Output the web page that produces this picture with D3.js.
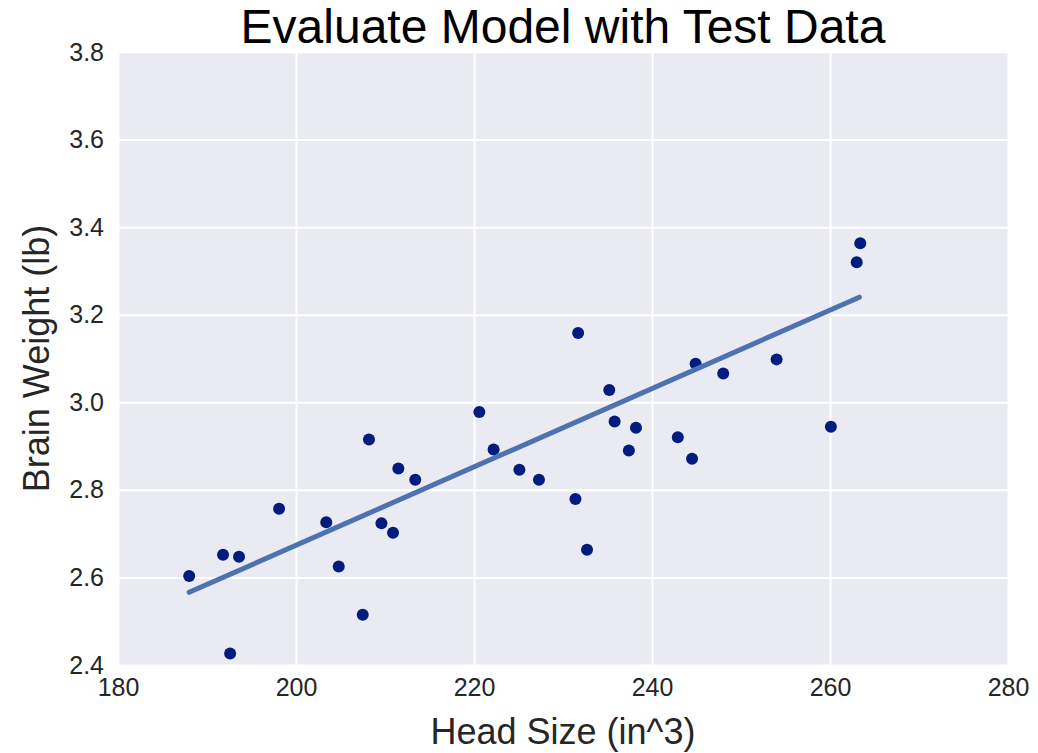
<!DOCTYPE html>
<html>
<head>
<meta charset="utf-8">
<script src="https://cdn.jsdelivr.net/npm/d3@7/dist/d3.min.js"></script>
<style>
  body { margin: 0; background: #fff; }
  text { font-family: "Liberation Sans", Arial, sans-serif; fill: #262626; }
</style>
</head>
<body>
<svg id="chart"></svg>
<script>
// test data: head size (in^3) vs brain weight (lb)
const headSize = [188.0, 191.8, 193.6, 192.6, 198.1, 203.4, 204.8, 208.2, 207.5, 209.6,
                  210.9, 211.5, 213.4, 220.6, 222.2, 225.1, 227.3, 231.7, 235.2, 235.8,
                  238.2, 237.4, 231.4, 232.7, 244.9, 248.0, 242.9, 244.5, 254.0, 260.1,
                  263.0, 263.4];
const brainWeight = [2.603, 2.652, 2.647, 2.426, 2.757, 2.726, 2.625, 2.915, 2.515, 2.724,
                     2.702, 2.849, 2.823, 2.978, 2.892, 2.846, 2.823, 3.158, 3.028, 2.956,
                     2.942, 2.890, 2.779, 2.663, 3.088, 3.066, 2.920, 2.871, 3.098, 2.944,
                     3.320, 3.363];

// fitted regression line (start / end)
const fitX = [188.0, 263.3];
const fitY = [2.566, 3.240];

const xTicks = [180, 200, 220, 240, 260, 280];
const yTicks = [2.4, 2.6, 2.8, 3.0, 3.2, 3.4, 3.6, 3.8];

const width = 1038, height = 753;
const margin = {top: 52, right: 30, bottom: 88, left: 118};
const innerW = width - margin.left - margin.right;
const innerH = height - margin.top - margin.bottom;

const svg = d3.select('#chart')
    .attr('width', width)
    .attr('height', height);

const g = svg.append('g')
    .attr('transform', `translate(${margin.left},${margin.top})`);

const x = d3.scaleLinear().domain([180, 280]).range([0, innerW]);
const y = d3.scaleLinear().domain([2.4, 3.8]).range([innerH, 0]);

// background
g.append('rect')
    .attr('width', innerW)
    .attr('height', innerH)
    .attr('fill', '#eaeaf2');

// grid
g.append('g')
    .attr('transform', `translate(0,${innerH})`)
    .call(d3.axisBottom(x).tickValues(xTicks).tickSize(-innerH).tickFormat(''))
    .call(ax => ax.select('.domain').remove())
    .call(ax => ax.selectAll('line').attr('stroke', '#fff').attr('stroke-width', 2));

g.append('g')
    .call(d3.axisLeft(y).tickValues(yTicks).tickSize(-innerW).tickFormat(''))
    .call(ax => ax.select('.domain').remove())
    .call(ax => ax.selectAll('line').attr('stroke', '#fff').attr('stroke-width', 2));

// tick labels
g.append('g')
    .attr('transform', `translate(0,${innerH})`)
    .call(d3.axisBottom(x).tickValues(xTicks).tickSize(0).tickPadding(13).tickFormat(d3.format('d')))
    .call(ax => ax.select('.domain').remove())
    .call(ax => ax.selectAll('text')
        .attr('font-size', 25)
        .attr('font-family', '"Liberation Sans", Arial, sans-serif')
        .attr('fill', '#262626'));

g.append('g')
    .call(d3.axisLeft(y).tickValues(yTicks).tickSize(0).tickPadding(14).tickFormat(d3.format('.1f')))
    .call(ax => ax.select('.domain').remove())
    .call(ax => ax.selectAll('text')
        .attr('font-size', 25)
        .attr('font-family', '"Liberation Sans", Arial, sans-serif')
        .attr('fill', '#262626'));

// scatter of test points
g.selectAll('.dot')
    .data(headSize.map((h, i) => [h, brainWeight[i]]))
    .enter().append('circle')
    .attr('class', 'dot')
    .attr('cx', d => x(d[0]))
    .attr('cy', d => y(d[1]))
    .attr('r', 6)
    .attr('fill', '#001c7f');

// regression line
const line = d3.line().x(d => x(d[0])).y(d => y(d[1]));
g.append('path')
    .datum(fitX.map((v, i) => [v, fitY[i]]))
    .attr('d', line)
    .attr('fill', 'none')
    .attr('stroke', '#4c72b0')
    .attr('stroke-width', 5)
    .attr('stroke-linecap', 'round');

// titles
svg.append('text')
    .attr('x', margin.left + innerW / 2)
    .attr('y', 43)
    .attr('text-anchor', 'middle')
    .attr('font-size', 48)
    .style('fill', '#000')
    .text('Evaluate Model with Test Data');

svg.append('text')
    .attr('x', margin.left + innerW / 2)
    .attr('y', 744)
    .attr('text-anchor', 'middle')
    .attr('font-size', 36)
    .text('Head Size (in^3)');

svg.append('text')
    .attr('transform', `translate(49,${margin.top + innerH / 2}) rotate(-90)`)
    .attr('text-anchor', 'middle')
    .attr('font-size', 36)
    .text('Brain Weight (lb)');
</script>
</body>
</html>
